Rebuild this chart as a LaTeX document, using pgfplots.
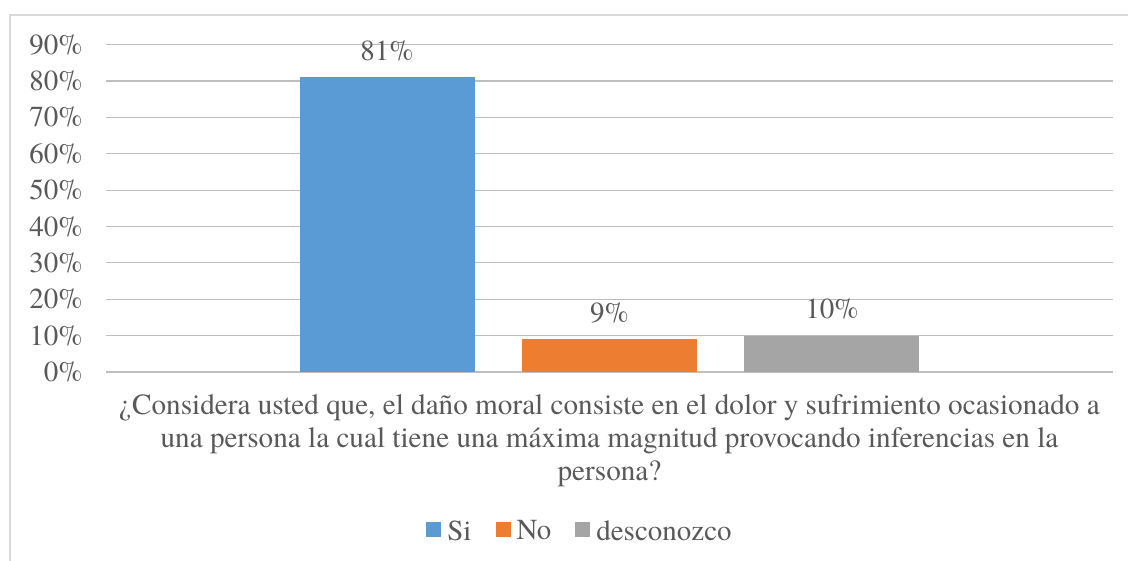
\documentclass[border=0pt]{standalone}
\usepackage{fontspec}
\setmainfont{texgyretermes-regular.otf}
\usepackage{pgfplots}
\pgfplotsset{compat=1.18}
\definecolor{cSi}{HTML}{5B9BD5}
\definecolor{cNo}{HTML}{ED7D31}
\definecolor{cDes}{HTML}{A5A5A5}
\definecolor{txt}{HTML}{595959}
\definecolor{grid}{HTML}{D9D9D9}
\begin{document}
\begin{tikzpicture}[x=1pt,y=1pt]
\path[use as bounding box] (0,0) rectangle (1128,561);
\draw[grid, line width=1.5pt] (10,-20) rectangle (1150,546);
\begin{axis}[
  at={(106pt,189pt)}, anchor=south west,
  scale only axis, width=1007pt, height=327.4pt,
  xmin=-1, xmax=1, ymin=0, ymax=90,
  ybar, bar shift=0pt, bar width=175pt,
  axis line style={draw=none},
  tick style={draw=none},
  xtick=\empty,
  ytick={0,10,...,90},
  yticklabel={\pgfmathprintnumber{\tick}\%},
  /pgf/number format/assume math mode=true,
  ymajorgrids, grid style={grid, line width=1.2pt},
  every tick label/.style={font=\fontsize{29}{32}\selectfont, text=txt},
  yticklabel style={xshift=-20pt},
  nodes near coords={\pgfmathprintnumber{\pgfplotspointmeta}\%},
  nodes near coords style={font=\fontsize{29}{32}\selectfont, text=txt, yshift=13pt},
  legend columns=3,
  legend style={at={(0.4707,-0.486)}, anchor=center, draw=none, fill=none,
    font=\fontsize{29}{32}\selectfont, text=txt,
    /tikz/every odd column/.append style={column sep=4pt},
    /tikz/every even column/.append style={column sep=22pt}},
  legend image code/.code={\fill[#1] (0pt,-6pt) rectangle (15pt,9pt);},
  clip=false,
]
\addplot[fill=cSi, draw=none] coordinates {(-0.4419,81)};
\addlegendentry{Si}
\addplot[fill=cNo, draw=none] coordinates {(0,9)};
\addlegendentry{No}
\addplot[fill=cDes, draw=none] coordinates {(0.4419,10)};
\addlegendentry{desconozco}
\end{axis}
\node[text=txt, font=\fontsize{29.2}{32.8}\selectfont, align=center, anchor=north] at (609.5,170)
{¿Considera usted que, el daño moral consiste en el dolor y sufrimiento ocasionado a\\
una persona la cual tiene una máxima magnitud provocando inferencias en la\\
persona?};
\end{tikzpicture}
\end{document}
